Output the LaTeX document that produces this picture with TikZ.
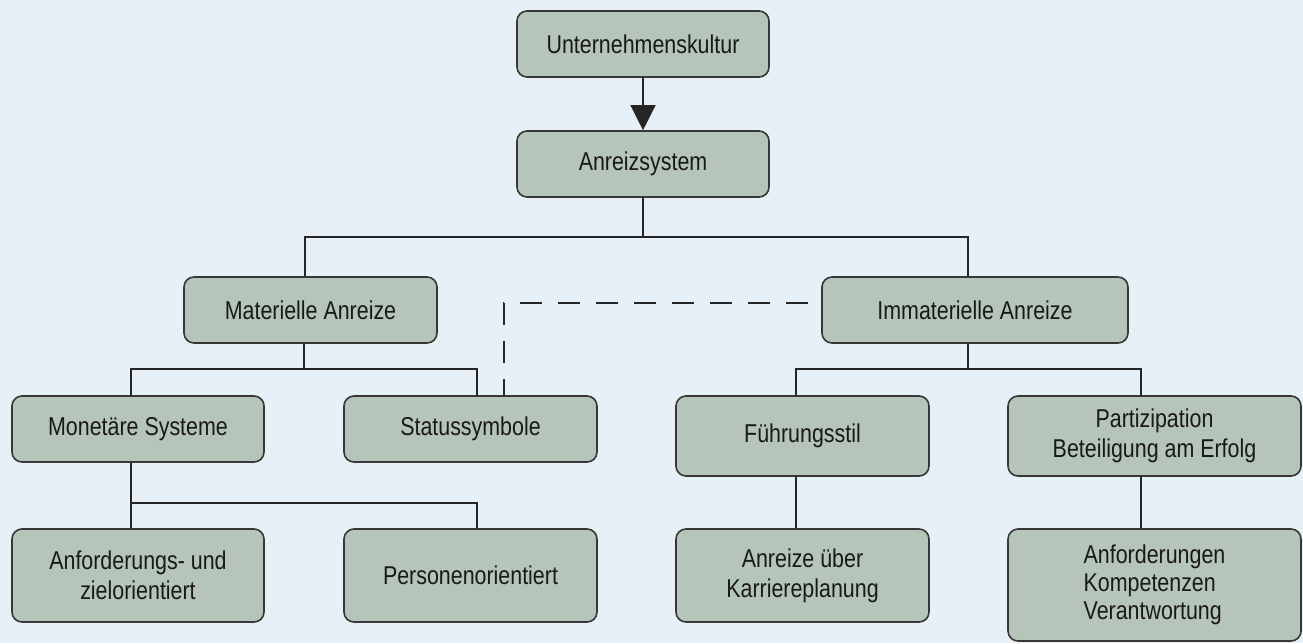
\documentclass[tikz,border=0pt]{standalone}
\usepackage{fontspec}
\setmainfont[FakeStretch=0.83]{Liberation Sans}
\usetikzlibrary{arrows.meta}
\definecolor{bg}{RGB}{232,240,247}
\definecolor{boxfill}{RGB}{181,197,185}
\definecolor{boxline}{RGB}{55,55,55}
\definecolor{txt}{RGB}{25,25,25}
\begin{document}
\begin{tikzpicture}[x=1pt,y=-1pt,
  box/.style={draw=boxline, line width=1.6pt, fill=boxfill, rounded corners=10pt,
    inner sep=0pt, text=txt, font=\fontsize{25.8}{30}\selectfont, align=center},
  conn/.style={draw=black!85, line width=1.3pt},
  dashconn/.style={conn, dash pattern=on 22pt off 16pt}]
\fill[bg] (0,0) rectangle (1303,643);
\useasboundingbox (0,0) rectangle (1303,643);
% nodes
\node[box, minimum width=252pt, minimum height=66pt] (U) at (643,44) {Unternehmenskultur};
\node[box, minimum width=252pt, minimum height=66pt] (A) at (643,164) {Anreizsystem};
\node[box, minimum width=253pt, minimum height=66pt] (Mat) at (310.5,310) {Materielle Anreize};
\node[box, minimum width=306pt, minimum height=66pt] (Imm) at (975,310) {Immaterielle Anreize};
\node[box, minimum width=252pt, minimum height=66pt] (Mon) at (138,429) {Monetäre Systeme};
\node[box, minimum width=253pt, minimum height=66pt] (Stat) at (470.5,429) {Statussymbole};
\node[box, minimum width=253pt, minimum height=80pt] (Fue) at (802.5,436) {Führungsstil};
\node[box, minimum width=293pt, minimum height=80pt] (Par) at (1154.5,436) {Partizipation\\Beteiligung am Erfolg};
\node[box, minimum width=252pt, minimum height=93pt] (Anf) at (138,575.5) {Anforderungs- und\\zielorientiert};
\node[box, minimum width=253pt, minimum height=93pt] (Pers) at (470.5,575.5) {Personenorientiert};
\node[box, minimum width=253pt, minimum height=93pt] (Karr) at (802.5,575.5) {Anreize über\\Karriereplanung};
\node[box, minimum width=293pt, minimum height=112pt, align=left,
  font=\fontsize{25.8}{28}\selectfont] (Kom) at (1154.5,585) {Anforderungen\\Kompetenzen\\Verantwortung};
% junction coordinates
\coordinate (jA) at (643,237);
\coordinate (jAL) at (305,237);
\coordinate (jAR) at (968,237);
\coordinate (jM) at (304,369);
\coordinate (jML) at (131,369);
\coordinate (jMR) at (477,369);
\coordinate (jI) at (968,369);
\coordinate (jIL) at (796,369);
\coordinate (jIR) at (1141,369);
\coordinate (jN) at (131,503);
\coordinate (jNR) at (477,503);
\coordinate (dC) at (504,303);
\coordinate (dE) at (808,303);
% connectors
\draw[conn, -{Triangle[width=25pt,length=25pt]}] (U.south) -- (A.north);
\draw[conn] (A.south) -- (jA);
\draw[conn] (Mat.north -| jAL) -- (jAL) -- (jAR) -- (Imm.north -| jAR);
\draw[conn] (Mat.south -| jM) -- (jM);
\draw[conn] (Mon.north -| jML) -- (jML) -- (jMR) -- (Stat.north -| jMR);
\draw[conn] (Imm.south -| jI) -- (jI);
\draw[conn] (Fue.north -| jIL) -- (jIL) -- (jIR) -- (Par.north -| jIR);
\draw[conn] (Mon.south -| jN) -- (jN) -- (jNR) -- (Pers.north -| jNR);
\draw[conn] (jN) -- (Anf.north -| jN);
\draw[conn] (Fue.south -| jIL) -- (Karr.north -| jIL);
\draw[conn] (Par.south -| jIR) -- (Kom.north -| jIR);
\draw[dashconn] (dE) -- (dC) -- (Stat.north -| dC);
\end{tikzpicture}
\end{document}
